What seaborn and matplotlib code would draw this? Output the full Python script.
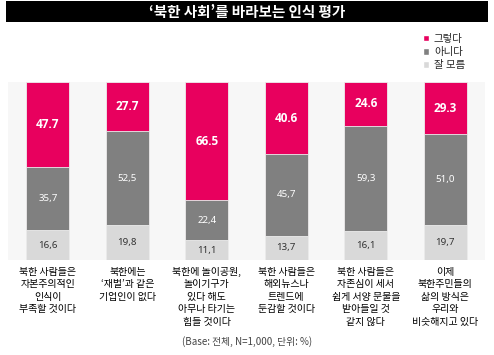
import matplotlib
matplotlib.use("Agg")
import matplotlib.pyplot as plt
import seaborn as sns
import pandas as pd
import numpy as np
from matplotlib.patches import Rectangle, Patch

sns.set_theme(style="white")
plt.rcParams['font.family'] = ['Noto Sans CJK KR', 'DejaVu Sans']

categories = [
    "북한 사람들은\n자본주의적인\n인식이\n부족할 것이다",
    "북한에는\n‘재벌’과 같은\n기업인이 없다",
    "북한에 놀이공원,\n놀이기구가\n있다 해도\n아무나 타기는\n힘들 것이다",
    "북한 사람들은\n해외뉴스나\n트렌드에\n둔감할 것이다",
    "북한 사람들은\n자존심이 세서\n쉽게 서양 문물을\n받아들일 것\n같지 않다",
    "이제\n북한주민들의\n삶의 방식은\n우리와\n비슷해지고 있다",
]
yes_vals = [47.7, 27.7, 66.5, 40.6, 24.6, 29.3]
no_vals = [35.7, 52.5, 22.4, 45.7, 59.3, 51.0]
dk_vals = [16.6, 19.8, 11.1, 13.7, 16.1, 19.7]
series_names = ["그렇다", "아니다", "잘 모름"]
title = "‘북한 사회’를 바라보는 인식 평가"
footnote = "(Base: 전체, N=1,000, 단위: %)"

c_yes = "#E8005E"
c_no = "#808080"
c_dk = "#D9D9D9"

df = pd.DataFrame({
    "cat": categories,
    "yes": yes_vals,
    "no": no_vals,
    "dk": dk_vals,
})
df["top_yes"] = df["dk"] + df["no"] + df["yes"]
df["top_no"] = df["dk"] + df["no"]
df["top_dk"] = df["dk"]

W, H = 494, 355
fig = plt.figure(figsize=(W / 100, H / 100), dpi=100)
ax = fig.add_axes([8 / W, 1 - 260 / H, 477 / W, 178 / H])
ax.set_facecolor("#F7F7F7")

bw = 0.54
for col, color in [("top_yes", c_yes), ("top_no", c_no), ("top_dk", c_dk)]:
    sns.barplot(data=df, x="cat", y=col, color=color, width=bw, ax=ax,
                saturation=1, edgecolor="#EDEDED", linewidth=0.6)

ax.set_xlim(-0.5, len(categories) - 0.5)
ax.set_ylim(0, 100)
ax.set_xlabel("")
ax.set_ylabel("")
ax.set_yticks([])
for s in ax.spines.values():
    s.set_visible(False)

for i in range(len(categories)):
    d, n, y = dk_vals[i], no_vals[i], yes_vals[i]
    ax.text(i, d / 2, f"{d:.1f}".replace(".", ","), ha="center", va="center",
            fontsize=7, color="#333333", family=['Noto Sans', 'DejaVu Sans'])
    ax.text(i, d + n / 2, f"{n:.1f}".replace(".", ","), ha="center", va="center",
            fontsize=7, color="white", family=['Noto Sans', 'DejaVu Sans'])
    ax.text(i, d + n + y / 2, f"{y:.1f}", ha="center", va="center",
            fontsize=8.5, color="white", fontweight="bold",
            family=['Open Sans', 'DejaVu Sans'])

ax.set_xticks(range(len(categories)))
ax.set_xticklabels(categories, fontsize=7.2, color="black", linespacing=1.3)
ax.tick_params(axis="x", length=0, pad=5)

# title bar
fig.patches.append(Rectangle((6 / W, 1 - 22 / H), 482 / W, 21 / H,
                             transform=fig.transFigure, facecolor="black",
                             edgecolor="none", zorder=0))
fig.text(247 / W, 1 - 11.5 / H, title, ha="center", va="center",
         color="white", fontsize=10.5, fontweight="bold")

handles = [Patch(facecolor=c_yes), Patch(facecolor=c_no), Patch(facecolor=c_dk)]
fig.legend(handles, series_names, loc="upper left",
           bbox_to_anchor=(423 / W, 1 - 34 / H), frameon=False,
           fontsize=7.5, handlelength=0.55, handleheight=0.55, handletextpad=0.5,
           labelspacing=0.3, borderpad=0, borderaxespad=0)

fig.text(247 / W, 1 - 342 / H, footnote, ha="center", va="center",
         fontsize=7, color="#444444")

fig.savefig("out.png", dpi=100)
